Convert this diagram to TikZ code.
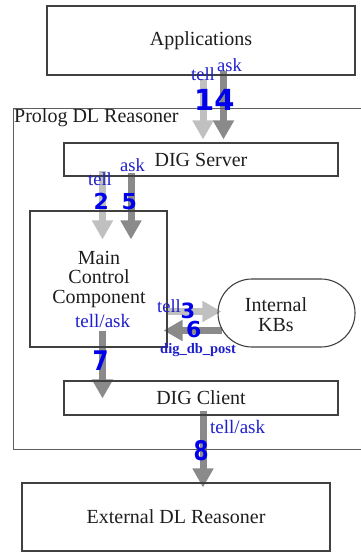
\documentclass[tikz,border=0pt]{standalone}
\usepackage{fontspec}
\usepackage{graphicx}
\setmainfont{Liberation Serif}
\newfontfamily\numfont{DejaVu Sans}
\usetikzlibrary{arrows.meta,shapes.misc}
\definecolor{lblue}{RGB}{30,30,205}
\definecolor{nblue}{RGB}{0,0,235}
\definecolor{lgray}{RGB}{192,192,192}
\definecolor{dgray}{RGB}{138,138,138}
\definecolor{boxline}{RGB}{64,64,64}
\definecolor{txtcol}{RGB}{30,30,30}
\pgfdeclarelayer{bg}
\pgfsetlayers{bg,main}
\begin{document}
\begin{tikzpicture}[x=1pt,y=-1pt,
  box/.style={draw=boxline,line width=1.1pt,inner sep=0pt,text=txtcol,font=\rmfamily\fontsize{20}{19.5}\selectfont},
  boxtext/.style={inner sep=0pt,text=txtcol,align=center,font=\rmfamily\fontsize{20}{19.5}\selectfont},
  arrl/.style={line width=7pt,lgray,-{Triangle[width=20pt,length=19pt]}},
  arrd/.style={line width=7pt,dgray,-{Triangle[width=20pt,length=19pt]}},
  lbl/.style={lblue,font=\rmfamily\fontsize{18.5}{18.5}\selectfont,inner sep=0pt,anchor=base west},
  num/.style={nblue,font=\numfont\bfseries\fontsize{#1}{#1}\selectfont,inner sep=0pt,anchor=base west}]
\clip (0,0) rectangle (361,552);
% boxes
\node[box,minimum width=308pt,minimum height=69pt] (app) at (201,40.5) {Applications};
\node[draw=boxline!85,line width=1pt,inner sep=0pt,minimum width=362pt,minimum height=341pt] (prolog) at (194,278.5) {};
\node[inner sep=0pt,anchor=base west,text=txtcol,font=\rmfamily\fontsize{20}{20}\selectfont] (prologlbl) at (14,122) {Prolog DL Reasoner};
\node[box,minimum width=274pt,minimum height=33pt] (dig) at (201,159.5) {DIG Server};
\node[box,minimum width=137pt,minimum height=136pt] (main) at (98.5,279) {};
\node[boxtext] (maintext) at (99,279.5) {Main\\Control\\Component};
\node[box,rounded rectangle,minimum width=137pt,minimum height=68pt] (kb) at (286.5,313) {};
\node[boxtext] (kbtext) at (276,314.5) {Internal\\KBs};
\node[box,minimum width=274pt,minimum height=34pt] (client) at (201,398) {DIG Client};
\node[box,minimum width=308pt,minimum height=68pt] (ext) at (176,517) {External DL Reasoner};
% arrows
\begin{pgfonlayer}{bg}
\draw[arrl] ([xshift=2pt,yshift=-3pt]app.south) -- ([xshift=2pt,yshift=3pt]dig.north);
\draw[arrd] ([xshift=22.5pt,yshift=5pt]app.south) -- ([xshift=22.5pt,yshift=3pt]dig.north);
\draw[arrl] ([xshift=-98.5pt,yshift=6pt]dig.south) -- ([xshift=4pt,yshift=-29pt]main.north);
\draw[arrd] ([xshift=-70pt,yshift=4pt]dig.south) -- ([xshift=32.5pt,yshift=-29pt]main.north);
\draw[arrl] ([yshift=-32.5pt]main.east) -- ([xshift=4pt,yshift=1.5pt]kb.west);
\draw[arrd] ([xshift=5pt,yshift=-17.5pt]kb.west) -- ([xshift=-4pt,yshift=-51.5pt]main.east);
\draw[arrd] ([xshift=4pt,yshift=17pt]main.south) -- ([xshift=-98.5pt,yshift=-18pt]client.north);
\draw[arrd] ([xshift=2pt,yshift=5pt]client.south) -- ([xshift=27pt,yshift=-5pt]ext.north);
\end{pgfonlayer}
% labels
\node[lbl] (t1) at (191,80) {tell};
\node[lbl] (a4) at (217,71) {ask};
\node[num=29] (n14) at (194,110) {14};
\node[lbl] (t2) at (88,185) {tell};
\node[lbl] (a5) at (120,171) {ask};
\node[num=22] (n2) at (93.5,209) {2};
\node[num=22] (n5) at (121.5,209) {5};
\node[lbl,font=\rmfamily\fontsize{19}{19}\selectfont] (tam) at (75,327) {tell/ask};
\node[lbl] (t3) at (157,312) {tell};
\node[num=21] (n3) at (180.5,318) {3};
\node[num=22] (n6) at (186,337.5) {6};
\node[lbl,font=\rmfamily\bfseries\fontsize{14.5}{14.5}\selectfont] (ddp) at (160,353) {dig\_db\_post};
\node[num=27] (n7) at (92.5,370) {\scalebox{0.85}[1]{7}};
\node[lbl,font=\rmfamily\fontsize{19}{19}\selectfont] (tac) at (210,433) {tell/ask};
\node[num=27] (n8) at (193.5,460) {\scalebox{0.8}[1]{8}};
\end{tikzpicture}
\end{document}
